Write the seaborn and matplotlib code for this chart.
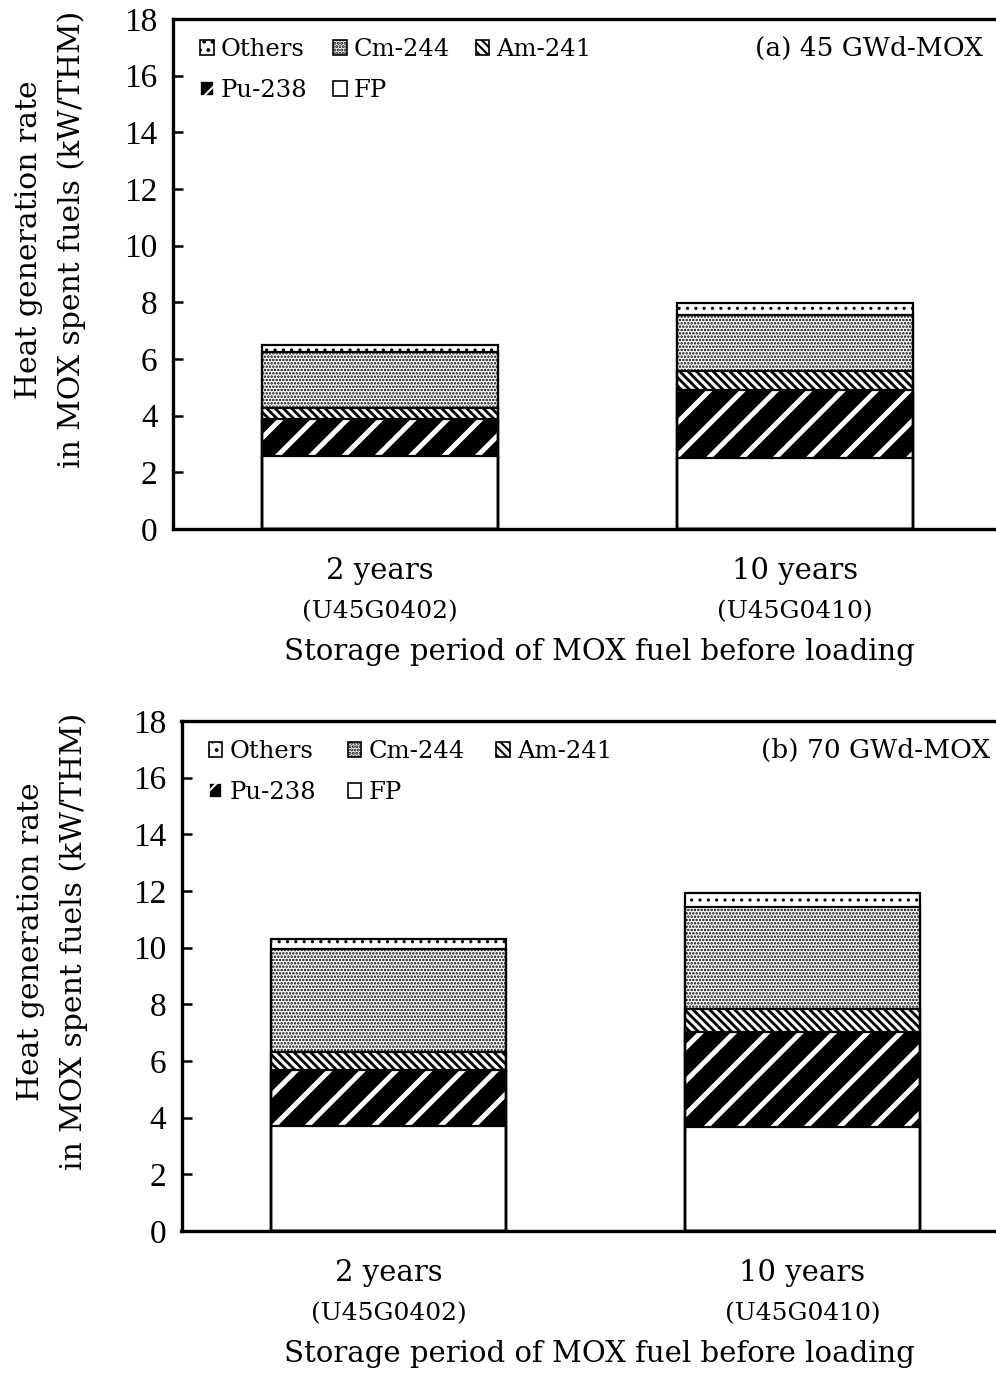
import matplotlib
matplotlib.use("Agg")
import matplotlib.pyplot as plt
from matplotlib.patches import Patch
import pandas as pd
import seaborn as sns

# ---- data (kW/THM) ----
periods = ["2 years", "10 years"]
case_codes = ["(U45G0402)", "(U45G0410)"]
components = ["FP", "Pu-238", "Am-241", "Cm-244", "Others"]

fp_45 = [2.58, 2.52]
pu238_45 = [1.31, 2.39]
am241_45 = [0.39, 0.68]
cm244_45 = [1.98, 1.98]
others_45 = [0.24, 0.39]

fp_70 = [3.71, 3.67]
pu238_70 = [1.97, 3.35]
am241_70 = [0.64, 0.82]
cm244_70 = [3.63, 3.60]
others_70 = [0.35, 0.49]

panel_titles = ["(a) 45 GWd-MOX", "(b) 70 GWd-MOX"]
y_ticks = [0, 2, 4, 6, 8, 10, 12, 14, 16, 18]

# component -> (face colour, hatch, hatch colour, hatch line width)
styles = {
    "FP": ("white", None, "black", 1.0),
    "Pu-238": ("black", "/", "white", 3.6),
    "Am-241": ("white", "\\\\\\\\", "black", 2.0),
    "Cm-244": ("white", ".....", "black", 1.2),
    "Others": ("white", "..", "black", 1.1),
}

sns.set_theme(style="ticks", rc={
    "axes.edgecolor": "black",
    "xtick.color": "black",
    "ytick.color": "black",
    "text.color": "black",
    "axes.labelcolor": "black",
})
plt.rcParams["font.family"] = ["DejaVu Serif", "DejaVu Sans"]
plt.rcParams["hatch.linewidth"] = 1.5

SERIF_NUM = ["Liberation Serif", "DejaVu Serif"]


def build_frame(fp, pu, am, cm, ot):
    rows = []
    for i, p in enumerate(periods):
        vals = {"FP": fp[i], "Pu-238": pu[i], "Am-241": am[i],
                "Cm-244": cm[i], "Others": ot[i]}
        cum = 0.0
        for c in components:
            cum += vals[c]
            rows.append({"period": p, "component": c, "value": vals[c], "top": cum})
    return pd.DataFrame(rows)


def draw_panel(ax, df, title, ylabel_x, xlabel_x, colspace):
    # stacked bars: draw cumulative tops from the highest layer down
    for comp in components[::-1]:
        face, hatch, hcol, hlw = styles[comp]
        sub = df[df["component"] == comp]
        n_before = len(ax.patches)
        with plt.rc_context({"hatch.linewidth": hlw}):
            sns.barplot(data=sub, x="period", y="top", order=periods, ax=ax,
                        color=face, saturation=1, width=0.57, errorbar=None,
                        hatch=hatch, edgecolor=hcol, linewidth=0)
        for p in ax.patches[n_before:]:
            if hasattr(p, "set_hatch_linewidth"):
                p.set_hatch_linewidth(hlw)
    # outlines of every layer
    for comp in components:
        sub = df[df["component"] == comp]
        sns.barplot(data=sub, x="period", y="top", order=periods, ax=ax,
                    color="black", fill=False, saturation=1, width=0.57,
                    errorbar=None, linewidth=1.6)

    ax.set_xlim(-0.5, 1.5)
    ax.set_ylim(0, 18)
    ax.set_yticks(y_ticks)
    ax.set_yticklabels([str(t) for t in y_ticks], family=SERIF_NUM, fontsize=24)
    ax.tick_params(axis="y", direction="in", length=7, width=1.8, pad=11)
    ax.tick_params(axis="x", length=0)
    ax.set_xticklabels([])
    for s in ax.spines.values():
        s.set_linewidth(2.4)
        s.set_color("black")

    tr = ax.get_xaxis_transform()
    for i, (p, code) in enumerate(zip(periods, case_codes)):
        ax.text(i, -0.082, p, transform=tr, ha="center", va="center", fontsize=21)
        ax.text(i, -0.163, code, transform=tr, ha="center", va="center",
                fontsize=18)

    ax.set_xlabel("Storage period of MOX fuel before loading", fontsize=21)
    ax.xaxis.set_label_coords(xlabel_x, -0.241)
    ax.xaxis.label.set_va("center")

    ax.set_ylabel("Heat generation rate\nin MOX spent fuels (kW/THM)",
                  fontsize=21.5, linespacing=1.6)
    ax.yaxis.set_label_coords(ylabel_x, 0.567)
    ax.yaxis.label.set_va("center")

    ax.text(0.977, 0.943, title, transform=ax.transAxes, ha="right",
            va="center", fontsize=19)

    order = ["Others", "Pu-238", "Cm-244", "FP", "Am-241"]
    handles = []
    for comp in order:
        face, hatch, hcol, hlw = styles[comp]
        h = Patch(facecolor=face, edgecolor="black" if comp != "Pu-238" else "white",
                  hatch=hatch, linewidth=1.2)
        handles.append(h)
    ax.legend(handles, order, ncol=3,
              loc="upper left", bbox_to_anchor=(0.033, 0.962), frameon=False,
              fontsize=17.5, handlelength=0.55, handleheight=0.55,
              handletextpad=0.3, columnspacing=colspace, labelspacing=0.72,
              borderaxespad=0, borderpad=0)


fig = plt.figure(figsize=(9.96, 13.76), dpi=100)
ax_a = fig.add_axes([173 / 996, 1 - 529 / 1376, 829 / 996, 510 / 1376])
ax_b = fig.add_axes([181.5 / 996, 1 - 1231 / 1376, 828 / 996, 510 / 1376])

df_45 = build_frame(fp_45, pu238_45, am241_45, cm244_45, others_45)
df_70 = build_frame(fp_70, pu238_70, am241_70, cm244_70, others_70)

draw_panel(ax_a, df_45, panel_titles[0], -0.148, 0.514, 1.05)
draw_panel(ax_b, df_70, panel_titles[1], -0.156, 0.505, 1.3)

fig.savefig("out.png", dpi=100, facecolor="white")
